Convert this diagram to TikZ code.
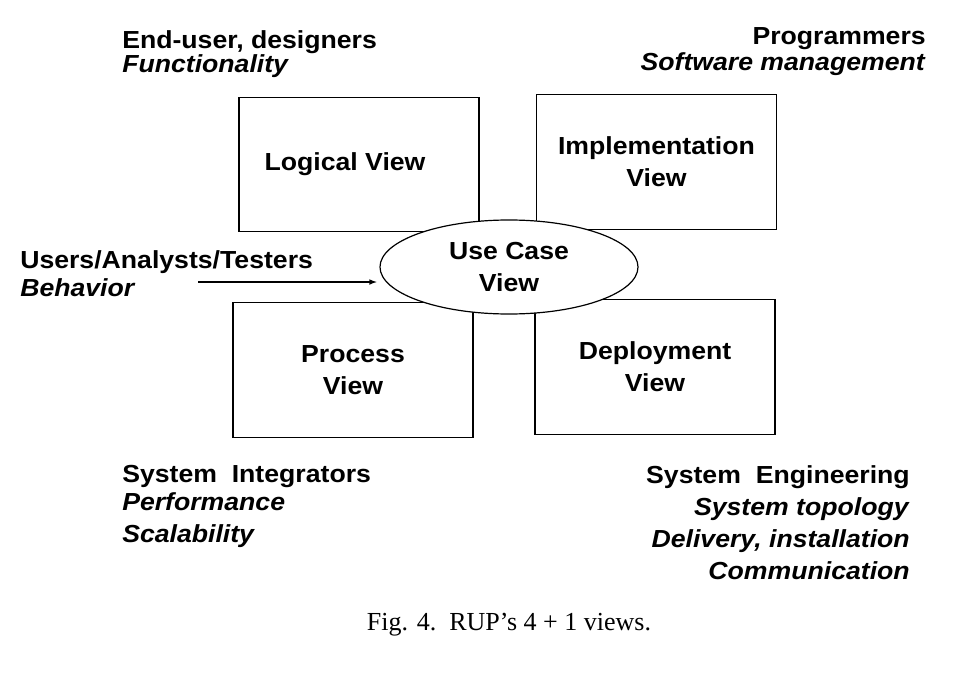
\documentclass[tikz,border=0pt]{standalone}
\usepackage{fontspec}
\setmainfont{Liberation Sans}[FakeStretch=1.08]
\newfontfamily\capfont{Liberation Serif}
\usetikzlibrary{shapes.geometric}

\tikzset{
  box/.style={draw, line width=0.9pt, minimum width=180pt, minimum height=101pt,
    align=center, font=\bfseries\fontsize{18.5}{24}\selectfont},
  usecase/.style={ellipse, draw, fill=white, line width=0.9pt, inner sep=0pt,
    minimum width=193.5pt, minimum height=70.5pt,
    align=center, font=\bfseries\fontsize{18.5}{24}\selectfont},
  role/.style={inner sep=0pt, font=\bfseries\fontsize{18.5}{24}\selectfont},
  caption/.style={inner sep=0pt, font=\capfont\fontsize{19.5}{24}\selectfont},
}

\begin{document}
\begin{tikzpicture}[x=0.75pt,y=-0.75pt,>=latex]
\useasboundingbox (0,0) rectangle (964,674);
%the four views
\node[box] (logical) at (359,164.5) {Logical View\hspace*{21pt}};
\node[box] (impl) at (656.5,162) {Implementation\\View};
\node[box] (process) at (353,370) {Process\\View};
\node[box] (deploy) at (655,367) {Deployment\\View};
%use case view, drawn over the boxes
\node[usecase] (usecase) at (509,267) {Use Case\\View};
%stakeholders and concerns
\node[role, anchor=north west, align=left] (enduser) at (122,30)
  {End-user, designers\\[-6pt]\textit{Functionality}};
\node[role, anchor=north east, align=right] (programmers) at (926,27)
  {Programmers\\[-4.5pt]\textit{Software management}};
\node[role, anchor=north west, align=left] (users) at (20,250)
  {Users/Analysts/Testers\\[-3pt]\textit{Behavior}};
\node[role, anchor=north west, align=left] (integrators) at (122,465)
  {System\ \ Integrators\\[-3pt]\textit{Performance}\\\textit{Scalability}};
\node[role, anchor=north east, align=right] (engineering) at (910,465)
  {System\ \ Engineering\\\textit{System topology}\\\textit{Delivery, installation}\\\textit{Communication}};
%arrow into the use case view
\coordinate (actor) at (198,282);
\draw[->, line width=0.9pt, shorten >=2pt] (actor) -- (actor -| usecase.west);
%caption
\node[caption] (cap) at (509,625) {Fig. 4.\ \ RUP’s 4 + 1 views.};
\end{tikzpicture}
\end{document}
